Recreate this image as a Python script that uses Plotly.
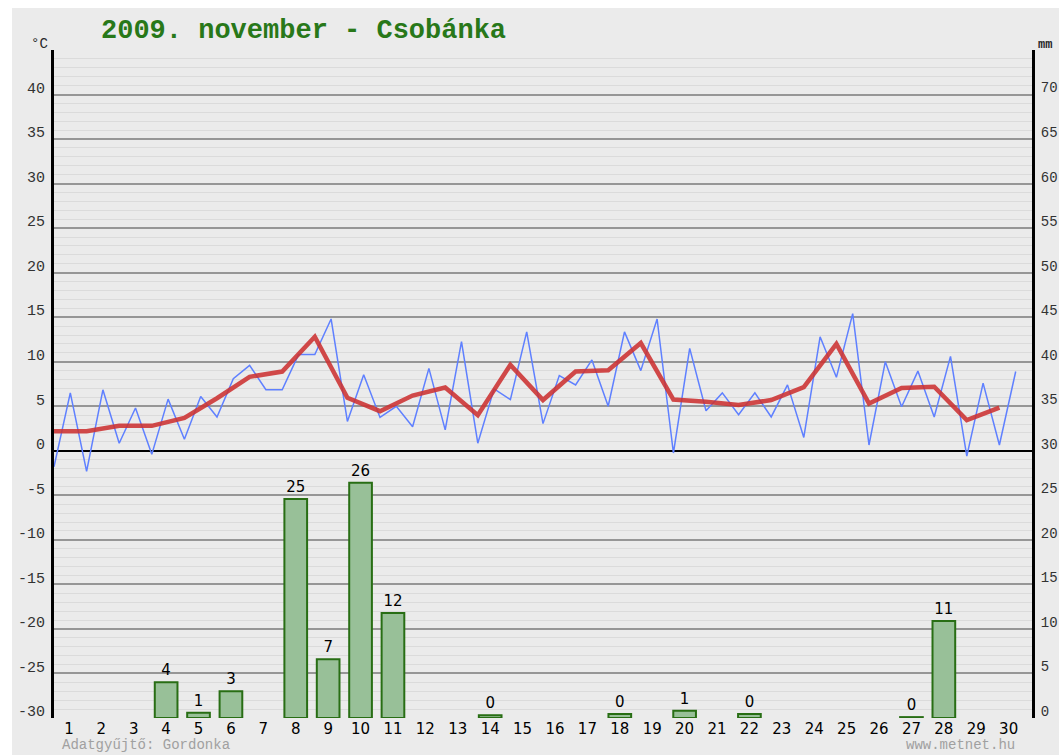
import plotly.graph_objects as go

# ---- data ----------------------------------------------------------------
days = list(range(1, 31))

# two temperature readings per day (°C): first reading, second reading
temp_first = [-1.8, -2.3, 0.85, -0.4, 1.3, 3.8, 9.6, 6.85, 10.8, 3.3,
              3.75, 2.7, 2.35, 0.85, 5.75, 3.05, 7.4, 5.0, 9.0, -0.25,
              4.5, 4.05, 3.8, 1.5, 8.25, 0.65, 4.95, 3.8, -0.6, 0.65]
temp_second = [6.5, 6.85, 4.8, 5.8, 6.1, 8.1, 6.85, 10.8, 14.8, 8.55,
               5.0, 9.25, 12.25, 6.95, 13.35, 8.45, 10.2, 13.35, 14.8, 11.5,
               6.5, 6.5, 7.4, 12.8, 15.4, 10.0, 8.95, 10.6, 7.6, 8.9]

# daily mean temperature (°C)
temp_mean = [2.2, 2.2, 2.8, 2.8, 3.7, 5.9, 8.3, 8.9, 12.8, 5.95,
             4.45, 6.2, 7.1, 4.0, 9.65, 5.7, 8.9, 9.05, 12.1, 5.75,
             5.5, 5.15, 5.7, 7.15, 12.0, 5.3, 7.05, 7.2, 3.45, 4.85]

# daily precipitation (mm)
precip_days = [4, 5, 6, 8, 9, 10, 11, 14, 18, 20, 22, 27, 28]
precip_mm = [4.0, 0.6, 3.0, 24.6, 6.6, 26.4, 11.8, 0.3, 0.45, 0.8, 0.45, 0.1, 10.9]

temp_ticks = list(range(-30, 50, 5))      # -30 ... 45
precip_ticks = list(range(0, 75, 5))      # 0 ... 70
day_labels = [str(d) for d in days]

# ---- derived series positions -------------------------------------------
read_x, read_y = [], []
for d, a, b in zip(days, temp_first, temp_second):
    read_x += [d - 0.5, d]
    read_y += [a, b]
mean_x = [d - 0.5 for d in days]

MONO = "Liberation Mono, Courier New, monospace"
SANS = "DejaVu Sans, sans-serif"

fig = go.Figure()

# temperature lines on x / y
fig.add_trace(go.Scatter(
    x=read_x, y=read_y, xaxis="x", yaxis="y",
    mode="lines", line=dict(color="rgb(95,128,255)", width=1.5),
    showlegend=False, hoverinfo="skip",
))
fig.add_trace(go.Scatter(
    x=mean_x, y=temp_mean, xaxis="x", yaxis="y",
    mode="lines", line=dict(color="rgb(205,50,50)", width=4.5),
    opacity=0.88, showlegend=False, hoverinfo="skip",
))

# precipitation bars on x2 / y2
fig.add_trace(go.Bar(
    x=precip_days, y=precip_mm, xaxis="x2", yaxis="y2",
    width=0.7,
    marker=dict(color="rgb(152,192,152)",
                line=dict(color="rgb(40,110,20)", width=2)),
    text=precip_mm, texttemplate="%{text:.0f}",
    textposition="outside", cliponaxis=False,
    textfont=dict(family=SANS, size=15, color="black"),
    showlegend=False, hoverinfo="skip",
))

fig.update_layout(
    width=1059, height=755, autosize=False,
    margin=dict(l=54, r=27, t=50, b=37, pad=0, autoexpand=False),
    paper_bgcolor="white",
    plot_bgcolor="rgb(235,235,235)",
    xaxis=dict(
        range=[0.5, 30.5], showticklabels=False, showgrid=False,
        zeroline=False, showline=False, ticks="", fixedrange=True,
        automargin=False,
    ),
    xaxis2=dict(
        overlaying="x", side="bottom", anchor="y2",
        range=[0.54, 30.72], tickmode="array", tickvals=days, ticktext=day_labels,
        showgrid=False, zeroline=False, showline=False, ticks="",
        ticklabelstandoff=0,
        tickfont=dict(family=SANS, size=15, color="black"),
        fixedrange=True, automargin=False,
    ),
    yaxis=dict(
        range=[-30, 45], tickmode="array", tickvals=temp_ticks,
        ticktext=[str(v) for v in temp_ticks[:-1]] + [""],
        showgrid=True, gridcolor="rgb(150,150,150)", gridwidth=1.5,
        minor=dict(tickmode="linear", tick0=0, dtick=1, showgrid=True,
                   gridcolor="rgb(219,219,219)", gridwidth=1, ticks=""),
        zeroline=True, zerolinecolor="black", zerolinewidth=2,
        showline=True, linecolor="black", linewidth=3,
        ticks="", ticklabelshift=-7, ticklabelstandoff=3,
        tickfont=dict(family=MONO, size=15, color="rgb(50,50,50)"),
        fixedrange=True, automargin=False,
    ),
    yaxis2=dict(
        overlaying="y", side="right", anchor="x2", range=[0, 75], tickmode="array",
        tickvals=precip_ticks, ticktext=[str(v) for v in precip_ticks],
        showgrid=False, zeroline=False,
        showline=True, linecolor="black", linewidth=3,
        ticks="", ticklabelshift=-7, ticklabelstandoff=3,
        tickfont=dict(family=MONO, size=14, color="rgb(50,50,50)"),
        fixedrange=True, automargin=False,
    ),
    shapes=[dict(type="rect", xref="paper", yref="paper",
                 x0=-0.0429, x1=1.05, y0=-0.06, y1=1.0629,
                 fillcolor="rgb(235,235,235)", line=dict(width=0), layer="below")],
    annotations=[
        dict(text="<b>2009. november - Csobánka</b>", xref="paper", yref="paper",
             x=0.255, y=1.028, xanchor="center", yanchor="middle", showarrow=False,
             font=dict(family=MONO, size=27, color="rgb(40,120,25)")),
        dict(text="°C", xref="paper", yref="paper", x=-0.015, y=1.009,
             xanchor="center", yanchor="middle", showarrow=False,
             font=dict(family=MONO, size=14, color="rgb(40,40,40)")),
        dict(text="<b>mm</b>", xref="paper", yref="paper", x=1.004, y=1.008,
             xanchor="left", yanchor="middle", showarrow=False,
             font=dict(family=MONO, size=12, color="rgb(40,40,40)")),
        dict(text="Adatgyűjtő: Gordonka", xref="paper", yref="paper",
             x=0.094, y=-0.0545, xanchor="center", yanchor="bottom", showarrow=False,
             borderpad=0,
             font=dict(family=MONO, size=14, color="rgb(160,160,160)")),
        dict(text="www.metnet.hu", xref="paper", yref="paper",
             x=0.870, y=-0.0545, xanchor="left", yanchor="bottom", showarrow=False,
             borderpad=0,
             font=dict(family=MONO, size=14, color="rgb(160,160,160)")),
    ],
)

fig.write_html("out.html")
